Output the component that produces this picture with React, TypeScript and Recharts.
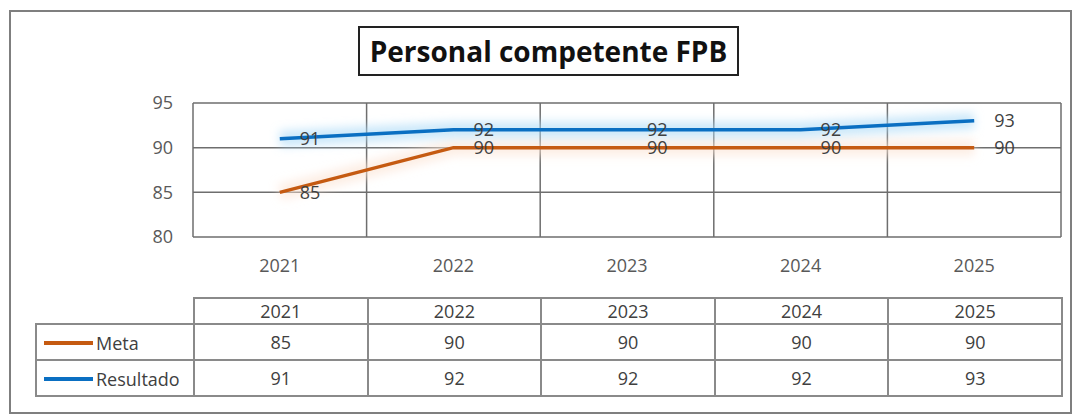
import React from 'react'
import { LineChart, Line, XAxis, YAxis, CartesianGrid, LabelList } from 'recharts'

const years = ['2021', '2022', '2023', '2024', '2025']
const metaValues = [85, 90, 90, 90, 90]
const resultadoValues = [91, 92, 92, 92, 93]
const yTicks = [80, 85, 90, 95]

const series = [
  { key: 'meta', name: 'Meta', color: '#C55A11', glow: '#fbe3d2', values: metaValues },
  { key: 'resultado', name: 'Resultado', color: '#0A6FC2', glow: '#a9d8f7', values: resultadoValues },
]

const chartData = years.map((year, i) => ({
  year,
  meta: metaValues[i],
  resultado: resultadoValues[i],
}))

const W = 1081
const H = 419
const PLOT_LEFT = 193
const PLOT_RIGHT = 1061
const PLOT_TOP = 103
const PLOT_BOTTOM = 237
const Y_AXIS_W = 60
const X_AXIS_H = 30

const FONT = "'Open Sans', 'DejaVu Sans', sans-serif"
const AXIS_TEXT = '#595959'
const GRID = '#6e6e6e'
const TABLE_BORDER = '#8a8a8a'

const colW = (PLOT_RIGHT - PLOT_LEFT) / years.length

export default function App() {
  return (
    <div
      style={{
        position: 'absolute',
        left: 0,
        top: 0,
        width: W,
        height: H,
        background: '#fff',
        fontFamily: FONT,
      }}
    >
      {/* outer frame */}
      <div
        style={{
          position: 'absolute',
          left: 9,
          top: 10,
          width: 1063,
          height: 404,
          border: '2px solid #7f7f7f',
          boxSizing: 'border-box',
        }}
      />

      {/* title */}
      <div
        style={{
          position: 'absolute',
          left: 358,
          top: 26,
          width: 381,
          height: 50,
          border: '2px solid #222',
          boxSizing: 'border-box',
          display: 'flex',
          alignItems: 'center',
          justifyContent: 'center',
          fontWeight: 700,
          fontSize: 28,
          color: '#111',
          whiteSpace: 'nowrap',
        }}
      >
        Personal competente FPB
      </div>

      <div style={{ position: 'absolute', left: 0, top: 0 }}>
        <LineChart
          width={W}
          height={H}
          data={chartData}
          margin={{
            top: PLOT_TOP,
            left: PLOT_LEFT - Y_AXIS_W,
            right: W - PLOT_RIGHT,
            bottom: H - PLOT_BOTTOM - X_AXIS_H,
          }}
        >
          <defs>
            <filter id="soft-glow" x="-20%" y="-200%" width="140%" height="500%">
              <feGaussianBlur stdDeviation="5" />
            </filter>
          </defs>
          <CartesianGrid
            stroke={GRID}
            strokeWidth={1.5}
            verticalCoordinatesGenerator={({ offset }: any) =>
              years
                .map((_, i) => offset.left + (offset.width * i) / years.length)
                .concat(offset.left + offset.width)
            }
          />
          <XAxis
            dataKey="year"
            scale="band"
            height={X_AXIS_H}
            axisLine={false}
            tickLine={false}
            tickSize={0}
            tickMargin={22}
            tick={{ fill: AXIS_TEXT, fontSize: 18, fontFamily: FONT }}
          />
          <YAxis
            width={Y_AXIS_W}
            domain={[80, 95]}
            ticks={yTicks}
            axisLine={false}
            tickLine={false}
            tickSize={0}
            tickMargin={20}
            tick={{ fill: AXIS_TEXT, fontSize: 18, fontFamily: FONT }}
          />
          {series.map((s) => (
            <Line
              key={s.key + '-glow'}
              dataKey={s.key}
              stroke={s.glow}
              strokeWidth={16}
              strokeOpacity={0.6}
              dot={false}
              activeDot={false}
              legendType="none"
              filter="url(#soft-glow)"
              isAnimationActive={false}
            />
          ))}
          {series.map((s) => (
            <Line
              key={s.key}
              dataKey={s.key}
              name={s.name}
              stroke={s.color}
              strokeWidth={3.5}
              dot={false}
              activeDot={false}
              isAnimationActive={false}
            >
              <LabelList
                dataKey={s.key}
                position="right"
                offset={20}
                fill="#404040"
                fontSize={18}
                fontFamily={FONT}
              />
            </Line>
          ))}
        </LineChart>
      </div>

      {/* data table */}
      <table
        style={{
          position: 'absolute',
          left: 35,
          top: 297,
          borderCollapse: 'collapse',
          tableLayout: 'fixed',
          width: PLOT_RIGHT - 35,
          fontSize: 18,
          color: '#404040',
          fontFamily: FONT,
        }}
      >
        <colgroup>
          <col style={{ width: PLOT_LEFT - 35 }} />
          {years.map((y) => (
            <col key={y} style={{ width: colW }} />
          ))}
        </colgroup>
        <tbody>
          <tr style={{ height: 26 }}>
            <td style={{ border: 'none', padding: 0 }} />
            {years.map((y) => (
              <td
                key={y}
                style={{ border: `2px solid ${TABLE_BORDER}`, textAlign: 'center', padding: 0, lineHeight: '22px' }}
              >
                {y}
              </td>
            ))}
          </tr>
          {series.map((s) => (
            <tr key={s.key} style={{ height: 36 }}>
              <td style={{ border: `2px solid ${TABLE_BORDER}`, padding: '0 0 0 7px', whiteSpace: 'nowrap' }}>
                <span
                  style={{
                    display: 'inline-block',
                    width: 49,
                    height: 4,
                    background: s.color,
                    verticalAlign: 'middle',
                    marginRight: 3,
                  }}
                />
                <span style={{ verticalAlign: 'middle' }}>{s.name}</span>
              </td>
              {s.values.map((v, i) => (
                <td
                  key={years[i]}
                  style={{ border: `2px solid ${TABLE_BORDER}`, textAlign: 'center', padding: 0 }}
                >
                  {v}
                </td>
              ))}
            </tr>
          ))}
        </tbody>
      </table>
    </div>
  )
}
